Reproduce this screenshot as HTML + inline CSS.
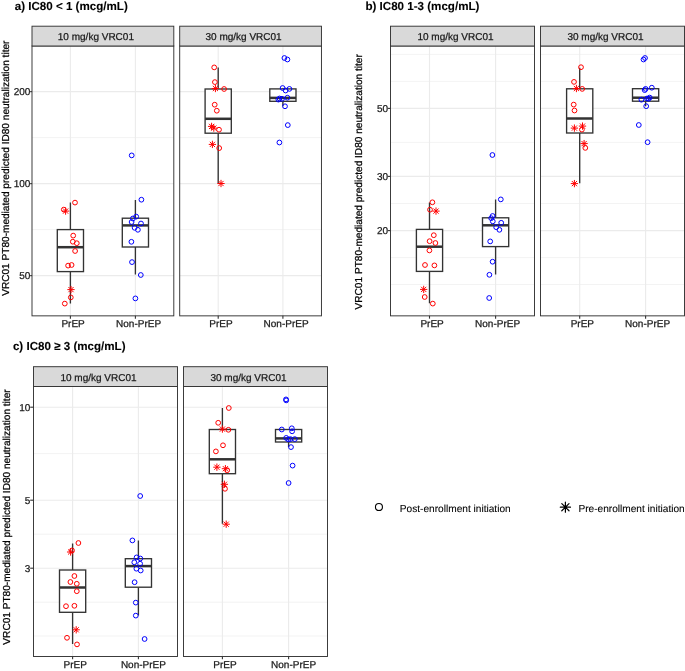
<!DOCTYPE html>
<html><head><meta charset="utf-8"><style>
html,body{margin:0;padding:0;background:#fff;}
#wrap{will-change:transform;width:685px;height:671px;}
svg{display:block;font-family:"Liberation Sans",sans-serif;}
text{text-rendering:geometricPrecision;stroke:currentColor;stroke-width:0.25px;}
</style></head><body>
<div id="wrap"><svg width="685" height="671" viewBox="0 0 685 671">
<rect width="685" height="671" fill="#fff"/>
<text x="14.7" y="9.7" font-size="11.6" fill="#000" color="#000" text-anchor="start" font-weight="bold" style="stroke-width:0.1px" >a) IC80 &lt; 1 (mcg/mL)</text>
<text transform="translate(9,168.2) rotate(-90)" font-size="10.1" fill="#000" color="#000" text-anchor="middle">VRC01 PT80-mediated predicted ID80 neutralization titer</text>
<rect x="32" y="46" width="141.8" height="269.85" fill="#fff"/>
<path d="M32 137.6H173.8" stroke="#ebebeb" stroke-width="0.6"/>
<path d="M32 229.6H173.8" stroke="#ebebeb" stroke-width="0.6"/>
<path d="M32 91.6H173.8" stroke="#ebebeb" stroke-width="1.1"/>
<path d="M32 183.6H173.8" stroke="#ebebeb" stroke-width="1.1"/>
<path d="M32 275.6H173.8" stroke="#ebebeb" stroke-width="1.1"/>
<path d="M70.4 46V315.85" stroke="#ebebeb" stroke-width="1.1"/>
<path d="M135.4 46V315.85" stroke="#ebebeb" stroke-width="1.1"/>
<path d="M70.4 202.5V229.6M70.4 271.6V303.5" stroke="#333333" stroke-width="1.35" fill="none"/><rect x="57.3" y="229.6" width="26.2" height="42" fill="#fff" stroke="#333333" stroke-width="1.35"/><path d="M57.3 247.2H83.5" stroke="#333333" stroke-width="2.5" fill="none"/>
<path d="M135.4 200V218.2M135.4 247V274.6" stroke="#333333" stroke-width="1.35" fill="none"/><rect x="122.3" y="218.2" width="26.2" height="28.8" fill="#fff" stroke="#333333" stroke-width="1.35"/><path d="M122.3 225.4H148.5" stroke="#333333" stroke-width="2.5" fill="none"/>
<circle cx="75" cy="202.6" r="2.38" fill="none" stroke="#ff0000" stroke-width="1"/>
<circle cx="63.8" cy="209.6" r="2.38" fill="none" stroke="#ff0000" stroke-width="1"/>
<path d="M63.3 208.8L67.9 213.4M63.3 213.4L67.9 208.8M62.35 211.1L68.85 211.1M65.6 207.85L65.6 214.35" fill="none" stroke="#ff0000" stroke-width="1" stroke-linecap="round"/>
<circle cx="73.2" cy="235.6" r="2.38" fill="none" stroke="#ff0000" stroke-width="1"/>
<circle cx="72.8" cy="241.7" r="2.38" fill="none" stroke="#ff0000" stroke-width="1"/>
<circle cx="76.8" cy="243.2" r="2.38" fill="none" stroke="#ff0000" stroke-width="1"/>
<circle cx="75.1" cy="251" r="2.38" fill="none" stroke="#ff0000" stroke-width="1"/>
<circle cx="68.1" cy="265.6" r="2.38" fill="none" stroke="#ff0000" stroke-width="1"/>
<circle cx="71.6" cy="265" r="2.38" fill="none" stroke="#ff0000" stroke-width="1"/>
<path d="M68.7 287.3L73.3 291.9M68.7 291.9L73.3 287.3M67.75 289.6L74.25 289.6M71 286.35L71 292.85" fill="none" stroke="#ff0000" stroke-width="1" stroke-linecap="round"/>
<circle cx="70.8" cy="297.4" r="2.38" fill="none" stroke="#ff0000" stroke-width="1"/>
<circle cx="64.8" cy="303.6" r="2.38" fill="none" stroke="#ff0000" stroke-width="1"/>
<circle cx="131.7" cy="155.4" r="2.38" fill="none" stroke="#0000ff" stroke-width="1"/>
<circle cx="141.4" cy="199.7" r="2.38" fill="none" stroke="#0000ff" stroke-width="1"/>
<circle cx="136.2" cy="216.6" r="2.38" fill="none" stroke="#0000ff" stroke-width="1"/>
<circle cx="132.9" cy="218.5" r="2.38" fill="none" stroke="#0000ff" stroke-width="1"/>
<circle cx="131.6" cy="222" r="2.38" fill="none" stroke="#0000ff" stroke-width="1"/>
<circle cx="141" cy="223.5" r="2.38" fill="none" stroke="#0000ff" stroke-width="1"/>
<circle cx="134.6" cy="227.8" r="2.38" fill="none" stroke="#0000ff" stroke-width="1"/>
<circle cx="137.9" cy="229.8" r="2.38" fill="none" stroke="#0000ff" stroke-width="1"/>
<circle cx="131.4" cy="241.8" r="2.38" fill="none" stroke="#0000ff" stroke-width="1"/>
<circle cx="132" cy="262.1" r="2.38" fill="none" stroke="#0000ff" stroke-width="1"/>
<circle cx="140.8" cy="275" r="2.38" fill="none" stroke="#0000ff" stroke-width="1"/>
<circle cx="135.4" cy="298.4" r="2.38" fill="none" stroke="#0000ff" stroke-width="1"/>
<rect x="32" y="46" width="141.8" height="269.85" fill="none" stroke="#333333" stroke-width="0.95"/>
<rect x="32" y="26.2" width="141.8" height="19.8" fill="#d9d9d9" stroke="#333333" stroke-width="0.95"/>
<text x="95.9" y="40.2" font-size="10" fill="#1a1a1a" color="#1a1a1a" text-anchor="middle" >10 mg/kg VRC01</text>
<path d="M70.4 315.85V318.65" stroke="#333333" stroke-width="1.1"/>
<text x="73.1" y="327.05" font-size="10" fill="#1a1a1a" color="#1a1a1a" text-anchor="middle" >PrEP</text>
<path d="M135.4 315.85V318.65" stroke="#333333" stroke-width="1.1"/>
<text x="138.6" y="327.05" font-size="10" fill="#1a1a1a" color="#1a1a1a" text-anchor="middle" >Non-PrEP</text>
<rect x="179.7" y="46" width="141.75" height="269.85" fill="#fff"/>
<path d="M179.7 137.6H321.45" stroke="#ebebeb" stroke-width="0.6"/>
<path d="M179.7 229.6H321.45" stroke="#ebebeb" stroke-width="0.6"/>
<path d="M179.7 91.6H321.45" stroke="#ebebeb" stroke-width="1.1"/>
<path d="M179.7 183.6H321.45" stroke="#ebebeb" stroke-width="1.1"/>
<path d="M179.7 275.6H321.45" stroke="#ebebeb" stroke-width="1.1"/>
<path d="M218.2 46V315.85" stroke="#ebebeb" stroke-width="1.1"/>
<path d="M282.9 46V315.85" stroke="#ebebeb" stroke-width="1.1"/>
<path d="M218.2 67.6V89M218.2 133.2V183.3" stroke="#333333" stroke-width="1.35" fill="none"/><rect x="205.1" y="89" width="26.2" height="44.2" fill="#fff" stroke="#333333" stroke-width="1.35"/><path d="M205.1 118.8H231.3" stroke="#333333" stroke-width="2.5" fill="none"/>
<path d="M282.9 88.3V88.9M282.9 101.3V106.3" stroke="#333333" stroke-width="1.35" fill="none"/><rect x="269.8" y="88.9" width="26.2" height="12.4" fill="#fff" stroke="#333333" stroke-width="1.35"/><path d="M269.8 97.9H296" stroke="#333333" stroke-width="2.5" fill="none"/>
<circle cx="214.2" cy="67.4" r="2.38" fill="none" stroke="#ff0000" stroke-width="1"/>
<circle cx="214.9" cy="82.1" r="2.38" fill="none" stroke="#ff0000" stroke-width="1"/>
<path d="M213.1 86.2L217.7 90.8M213.1 90.8L217.7 86.2M212.15 88.5L218.65 88.5M215.4 85.25L215.4 91.75" fill="none" stroke="#ff0000" stroke-width="1" stroke-linecap="round"/>
<circle cx="224.1" cy="89" r="2.38" fill="none" stroke="#ff0000" stroke-width="1"/>
<circle cx="214.7" cy="104.7" r="2.38" fill="none" stroke="#ff0000" stroke-width="1"/>
<circle cx="216.8" cy="110.7" r="2.38" fill="none" stroke="#ff0000" stroke-width="1"/>
<path d="M209.3 124.1L213.9 128.7M209.3 128.7L213.9 124.1M208.35 126.4L214.85 126.4M211.6 123.15L211.6 129.65" fill="none" stroke="#ff0000" stroke-width="1" stroke-linecap="round"/>
<path d="M211.5 125.8L216.1 130.4M211.5 130.4L216.1 125.8M210.55 128.1L217.05 128.1M213.8 124.85L213.8 131.35" fill="none" stroke="#ff0000" stroke-width="1" stroke-linecap="round"/>
<circle cx="219" cy="129.7" r="2.38" fill="none" stroke="#ff0000" stroke-width="1"/>
<path d="M210.1 142.1L214.7 146.7M210.1 146.7L214.7 142.1M209.15 144.4L215.65 144.4M212.4 141.15L212.4 147.65" fill="none" stroke="#ff0000" stroke-width="1" stroke-linecap="round"/>
<circle cx="219.2" cy="148.1" r="2.38" fill="none" stroke="#ff0000" stroke-width="1"/>
<path d="M218.7 181.2L223.3 185.8M218.7 185.8L223.3 181.2M217.75 183.5L224.25 183.5M221 180.25L221 186.75" fill="none" stroke="#ff0000" stroke-width="1" stroke-linecap="round"/>
<circle cx="284.4" cy="58" r="2.38" fill="none" stroke="#0000ff" stroke-width="1"/>
<circle cx="287.4" cy="59.5" r="2.38" fill="none" stroke="#0000ff" stroke-width="1"/>
<circle cx="282.6" cy="88" r="2.38" fill="none" stroke="#0000ff" stroke-width="1"/>
<circle cx="289.4" cy="88.9" r="2.38" fill="none" stroke="#0000ff" stroke-width="1"/>
<circle cx="285.6" cy="90.5" r="2.38" fill="none" stroke="#0000ff" stroke-width="1"/>
<circle cx="287.4" cy="97.7" r="2.38" fill="none" stroke="#0000ff" stroke-width="1"/>
<circle cx="279.5" cy="98.5" r="2.38" fill="none" stroke="#0000ff" stroke-width="1"/>
<circle cx="282" cy="98.8" r="2.38" fill="none" stroke="#0000ff" stroke-width="1"/>
<circle cx="278.4" cy="99.6" r="2.38" fill="none" stroke="#0000ff" stroke-width="1"/>
<circle cx="285" cy="106.3" r="2.38" fill="none" stroke="#0000ff" stroke-width="1"/>
<circle cx="287.8" cy="125.1" r="2.38" fill="none" stroke="#0000ff" stroke-width="1"/>
<circle cx="279.4" cy="142.5" r="2.38" fill="none" stroke="#0000ff" stroke-width="1"/>
<rect x="179.7" y="46" width="141.75" height="269.85" fill="none" stroke="#333333" stroke-width="0.95"/>
<rect x="179.7" y="26.2" width="141.75" height="19.8" fill="#d9d9d9" stroke="#333333" stroke-width="0.95"/>
<text x="243.57" y="40.2" font-size="10" fill="#1a1a1a" color="#1a1a1a" text-anchor="middle" >30 mg/kg VRC01</text>
<path d="M218.2 315.85V318.65" stroke="#333333" stroke-width="1.1"/>
<text x="220.9" y="327.05" font-size="10" fill="#1a1a1a" color="#1a1a1a" text-anchor="middle" >PrEP</text>
<path d="M282.9 315.85V318.65" stroke="#333333" stroke-width="1.1"/>
<text x="286.1" y="327.05" font-size="10" fill="#1a1a1a" color="#1a1a1a" text-anchor="middle" >Non-PrEP</text>
<path d="M30.2 91.6H31.9" stroke="#333333" stroke-width="1.1"/>
<text x="30.4" y="95.2" font-size="10" fill="#1a1a1a" color="#1a1a1a" text-anchor="end" >200</text>
<path d="M30.2 183.6H31.9" stroke="#333333" stroke-width="1.1"/>
<text x="30.4" y="187.2" font-size="10" fill="#1a1a1a" color="#1a1a1a" text-anchor="end" >100</text>
<path d="M30.2 275.6H31.9" stroke="#333333" stroke-width="1.1"/>
<text x="30.4" y="279.2" font-size="10" fill="#1a1a1a" color="#1a1a1a" text-anchor="end" >50</text>
<text x="365.4" y="9.7" font-size="11.6" fill="#000" color="#000" text-anchor="start" font-weight="bold" style="stroke-width:0.1px" >b) IC80 1-3 (mcg/mL)</text>
<text transform="translate(362,181.8) rotate(-90)" font-size="10.1" fill="#000" color="#000" text-anchor="middle">VRC01 PT80-mediated predicted ID80 neutralization titer</text>
<rect x="390.5" y="46" width="144" height="269.85" fill="#fff"/>
<path d="M390.5 54.4H534.5" stroke="#ebebeb" stroke-width="0.6"/>
<path d="M390.5 81.4H534.5" stroke="#ebebeb" stroke-width="0.6"/>
<path d="M390.5 142.4H534.5" stroke="#ebebeb" stroke-width="0.6"/>
<path d="M390.5 203.5H534.5" stroke="#ebebeb" stroke-width="0.6"/>
<path d="M390.5 257.6H534.5" stroke="#ebebeb" stroke-width="0.6"/>
<path d="M390.5 284.5H534.5" stroke="#ebebeb" stroke-width="0.6"/>
<path d="M390.5 108.4H534.5" stroke="#ebebeb" stroke-width="1.1"/>
<path d="M390.5 176.4H534.5" stroke="#ebebeb" stroke-width="1.1"/>
<path d="M390.5 230.6H534.5" stroke="#ebebeb" stroke-width="1.1"/>
<path d="M429.5 46V315.85" stroke="#ebebeb" stroke-width="1.1"/>
<path d="M495.6 46V315.85" stroke="#ebebeb" stroke-width="1.1"/>
<path d="M429.5 202.4V229.4M429.5 271.4V303.2" stroke="#333333" stroke-width="1.35" fill="none"/><rect x="416.4" y="229.4" width="26.2" height="42" fill="#fff" stroke="#333333" stroke-width="1.35"/><path d="M416.4 246.7H442.6" stroke="#333333" stroke-width="2.5" fill="none"/>
<path d="M495.6 199.6V217.8M495.6 246.6V274.4" stroke="#333333" stroke-width="1.35" fill="none"/><rect x="482.5" y="217.8" width="26.2" height="28.8" fill="#fff" stroke="#333333" stroke-width="1.35"/><path d="M482.5 225.3H508.7" stroke="#333333" stroke-width="2.5" fill="none"/>
<circle cx="432.4" cy="202.3" r="2.38" fill="none" stroke="#ff0000" stroke-width="1"/>
<circle cx="430" cy="209.7" r="2.38" fill="none" stroke="#ff0000" stroke-width="1"/>
<path d="M433.7 208.8L438.3 213.4M433.7 213.4L438.3 208.8M432.75 211.1L439.25 211.1M436 207.85L436 214.35" fill="none" stroke="#ff0000" stroke-width="1" stroke-linecap="round"/>
<circle cx="433.8" cy="235.2" r="2.38" fill="none" stroke="#ff0000" stroke-width="1"/>
<circle cx="429.6" cy="241.2" r="2.38" fill="none" stroke="#ff0000" stroke-width="1"/>
<circle cx="435.4" cy="243" r="2.38" fill="none" stroke="#ff0000" stroke-width="1"/>
<circle cx="429.4" cy="250.4" r="2.38" fill="none" stroke="#ff0000" stroke-width="1"/>
<circle cx="425" cy="265" r="2.38" fill="none" stroke="#ff0000" stroke-width="1"/>
<circle cx="434.4" cy="265.4" r="2.38" fill="none" stroke="#ff0000" stroke-width="1"/>
<path d="M421.4 287.1L426 291.7M421.4 291.7L426 287.1M420.45 289.4L426.95 289.4M423.7 286.15L423.7 292.65" fill="none" stroke="#ff0000" stroke-width="1" stroke-linecap="round"/>
<circle cx="424.7" cy="297" r="2.38" fill="none" stroke="#ff0000" stroke-width="1"/>
<circle cx="432.8" cy="303.6" r="2.38" fill="none" stroke="#ff0000" stroke-width="1"/>
<circle cx="492.4" cy="155" r="2.38" fill="none" stroke="#0000ff" stroke-width="1"/>
<circle cx="500.8" cy="199.4" r="2.38" fill="none" stroke="#0000ff" stroke-width="1"/>
<circle cx="492.6" cy="216" r="2.38" fill="none" stroke="#0000ff" stroke-width="1"/>
<circle cx="491.2" cy="218.2" r="2.38" fill="none" stroke="#0000ff" stroke-width="1"/>
<circle cx="492.8" cy="221.4" r="2.38" fill="none" stroke="#0000ff" stroke-width="1"/>
<circle cx="501.2" cy="222.8" r="2.38" fill="none" stroke="#0000ff" stroke-width="1"/>
<circle cx="496.2" cy="227.2" r="2.38" fill="none" stroke="#0000ff" stroke-width="1"/>
<circle cx="499.4" cy="229.8" r="2.38" fill="none" stroke="#0000ff" stroke-width="1"/>
<circle cx="490.2" cy="241.4" r="2.38" fill="none" stroke="#0000ff" stroke-width="1"/>
<circle cx="492.6" cy="261.7" r="2.38" fill="none" stroke="#0000ff" stroke-width="1"/>
<circle cx="489.4" cy="274.8" r="2.38" fill="none" stroke="#0000ff" stroke-width="1"/>
<circle cx="489.2" cy="298" r="2.38" fill="none" stroke="#0000ff" stroke-width="1"/>
<rect x="390.5" y="46" width="144" height="269.85" fill="none" stroke="#333333" stroke-width="0.95"/>
<rect x="390.5" y="26.2" width="144" height="19.8" fill="#d9d9d9" stroke="#333333" stroke-width="0.95"/>
<text x="455.5" y="40.2" font-size="10" fill="#1a1a1a" color="#1a1a1a" text-anchor="middle" >10 mg/kg VRC01</text>
<path d="M429.5 315.85V318.65" stroke="#333333" stroke-width="1.1"/>
<text x="432.1" y="327.05" font-size="10" fill="#1a1a1a" color="#1a1a1a" text-anchor="middle" >PrEP</text>
<path d="M495.6 315.85V318.65" stroke="#333333" stroke-width="1.1"/>
<text x="497.6" y="327.05" font-size="10" fill="#1a1a1a" color="#1a1a1a" text-anchor="middle" >Non-PrEP</text>
<rect x="540.5" y="46" width="144" height="269.85" fill="#fff"/>
<path d="M540.5 54.4H684.5" stroke="#ebebeb" stroke-width="0.6"/>
<path d="M540.5 81.4H684.5" stroke="#ebebeb" stroke-width="0.6"/>
<path d="M540.5 142.4H684.5" stroke="#ebebeb" stroke-width="0.6"/>
<path d="M540.5 203.5H684.5" stroke="#ebebeb" stroke-width="0.6"/>
<path d="M540.5 257.6H684.5" stroke="#ebebeb" stroke-width="0.6"/>
<path d="M540.5 284.5H684.5" stroke="#ebebeb" stroke-width="0.6"/>
<path d="M540.5 108.4H684.5" stroke="#ebebeb" stroke-width="1.1"/>
<path d="M540.5 176.4H684.5" stroke="#ebebeb" stroke-width="1.1"/>
<path d="M540.5 230.6H684.5" stroke="#ebebeb" stroke-width="1.1"/>
<path d="M579.7 46V315.85" stroke="#ebebeb" stroke-width="1.1"/>
<path d="M645.6 46V315.85" stroke="#ebebeb" stroke-width="1.1"/>
<path d="M579.7 67.8V88.8M579.7 133V183.2" stroke="#333333" stroke-width="1.35" fill="none"/><rect x="566.6" y="88.8" width="26.2" height="44.2" fill="#fff" stroke="#333333" stroke-width="1.35"/><path d="M566.6 118.5H592.8" stroke="#333333" stroke-width="2.5" fill="none"/>
<path d="M645.6 88V88.7M645.6 101.2V106.2" stroke="#333333" stroke-width="1.35" fill="none"/><rect x="632.5" y="88.7" width="26.2" height="12.5" fill="#fff" stroke="#333333" stroke-width="1.35"/><path d="M632.5 97.7H658.7" stroke="#333333" stroke-width="2.5" fill="none"/>
<circle cx="581" cy="67.2" r="2.38" fill="none" stroke="#ff0000" stroke-width="1"/>
<circle cx="574" cy="81.9" r="2.38" fill="none" stroke="#ff0000" stroke-width="1"/>
<path d="M574.1 86.2L578.7 90.8M574.1 90.8L578.7 86.2M573.15 88.5L579.65 88.5M576.4 85.25L576.4 91.75" fill="none" stroke="#ff0000" stroke-width="1" stroke-linecap="round"/>
<circle cx="582.2" cy="88.9" r="2.38" fill="none" stroke="#ff0000" stroke-width="1"/>
<circle cx="573.7" cy="104.6" r="2.38" fill="none" stroke="#ff0000" stroke-width="1"/>
<circle cx="574.5" cy="110.5" r="2.38" fill="none" stroke="#ff0000" stroke-width="1"/>
<path d="M580.2 123.8L584.8 128.4M580.2 128.4L584.8 123.8M579.25 126.1L585.75 126.1M582.5 122.85L582.5 129.35" fill="none" stroke="#ff0000" stroke-width="1" stroke-linecap="round"/>
<path d="M572.1 125.8L576.7 130.4M572.1 130.4L576.7 125.8M571.15 128.1L577.65 128.1M574.4 124.85L574.4 131.35" fill="none" stroke="#ff0000" stroke-width="1" stroke-linecap="round"/>
<circle cx="581.9" cy="129.6" r="2.38" fill="none" stroke="#ff0000" stroke-width="1"/>
<path d="M581.8 141.3L586.4 145.9M581.8 145.9L586.4 141.3M580.85 143.6L587.35 143.6M584.1 140.35L584.1 146.85" fill="none" stroke="#ff0000" stroke-width="1" stroke-linecap="round"/>
<circle cx="585.3" cy="147.9" r="2.38" fill="none" stroke="#ff0000" stroke-width="1"/>
<path d="M572.1 181.3L576.7 185.9M572.1 185.9L576.7 181.3M571.15 183.6L577.65 183.6M574.4 180.35L574.4 186.85" fill="none" stroke="#ff0000" stroke-width="1" stroke-linecap="round"/>
<circle cx="645" cy="58" r="2.38" fill="none" stroke="#0000ff" stroke-width="1"/>
<circle cx="643.5" cy="59.5" r="2.38" fill="none" stroke="#0000ff" stroke-width="1"/>
<circle cx="651.8" cy="87.7" r="2.38" fill="none" stroke="#0000ff" stroke-width="1"/>
<circle cx="645.6" cy="88.9" r="2.38" fill="none" stroke="#0000ff" stroke-width="1"/>
<circle cx="644.7" cy="90.1" r="2.38" fill="none" stroke="#0000ff" stroke-width="1"/>
<circle cx="649.7" cy="97.6" r="2.38" fill="none" stroke="#0000ff" stroke-width="1"/>
<circle cx="647" cy="98.5" r="2.38" fill="none" stroke="#0000ff" stroke-width="1"/>
<circle cx="648.5" cy="98.8" r="2.38" fill="none" stroke="#0000ff" stroke-width="1"/>
<circle cx="641.4" cy="99.7" r="2.38" fill="none" stroke="#0000ff" stroke-width="1"/>
<circle cx="646.2" cy="106.2" r="2.38" fill="none" stroke="#0000ff" stroke-width="1"/>
<circle cx="638.8" cy="125" r="2.38" fill="none" stroke="#0000ff" stroke-width="1"/>
<circle cx="647.6" cy="142.2" r="2.38" fill="none" stroke="#0000ff" stroke-width="1"/>
<rect x="540.5" y="46" width="144" height="269.85" fill="none" stroke="#333333" stroke-width="0.95"/>
<rect x="540.5" y="26.2" width="144" height="19.8" fill="#d9d9d9" stroke="#333333" stroke-width="0.95"/>
<text x="605.5" y="40.2" font-size="10" fill="#1a1a1a" color="#1a1a1a" text-anchor="middle" >30 mg/kg VRC01</text>
<path d="M579.7 315.85V318.65" stroke="#333333" stroke-width="1.1"/>
<text x="582.3" y="327.05" font-size="10" fill="#1a1a1a" color="#1a1a1a" text-anchor="middle" >PrEP</text>
<path d="M645.6 315.85V318.65" stroke="#333333" stroke-width="1.1"/>
<text x="647.6" y="327.05" font-size="10" fill="#1a1a1a" color="#1a1a1a" text-anchor="middle" >Non-PrEP</text>
<path d="M387.9 108.4H390.6" stroke="#333333" stroke-width="1.1"/>
<text x="388" y="112" font-size="10" fill="#1a1a1a" color="#1a1a1a" text-anchor="end" >50</text>
<path d="M387.9 176.4H390.6" stroke="#333333" stroke-width="1.1"/>
<text x="388" y="180" font-size="10" fill="#1a1a1a" color="#1a1a1a" text-anchor="end" >30</text>
<path d="M387.9 230.6H390.6" stroke="#333333" stroke-width="1.1"/>
<text x="388" y="234.2" font-size="10" fill="#1a1a1a" color="#1a1a1a" text-anchor="end" >20</text>
<text x="12.9" y="349.9" font-size="11.6" fill="#000" color="#000" text-anchor="start" font-weight="bold" style="stroke-width:0.1px" >c) IC80 &#8805; 3 (mcg/mL)</text>
<text transform="translate(10,517) rotate(-90)" font-size="10.1" fill="#000" color="#000" text-anchor="middle">VRC01 PT80-mediated predicted ID80 neutralization titer</text>
<rect x="33.5" y="386.5" width="144" height="270" fill="#fff"/>
<path d="M33.5 453.6H177.5" stroke="#ebebeb" stroke-width="0.6"/>
<path d="M33.5 534.2H177.5" stroke="#ebebeb" stroke-width="0.6"/>
<path d="M33.5 602.2H177.5" stroke="#ebebeb" stroke-width="0.6"/>
<path d="M33.5 636H177.5" stroke="#ebebeb" stroke-width="0.6"/>
<path d="M33.5 407.2H177.5" stroke="#ebebeb" stroke-width="1.1"/>
<path d="M33.5 500.2H177.5" stroke="#ebebeb" stroke-width="1.1"/>
<path d="M33.5 568.2H177.5" stroke="#ebebeb" stroke-width="1.1"/>
<path d="M72.6 386.5V656.5" stroke="#ebebeb" stroke-width="1.1"/>
<path d="M138.4 386.5V656.5" stroke="#ebebeb" stroke-width="1.1"/>
<path d="M72.6 543.4V570M72.6 612.3V644" stroke="#333333" stroke-width="1.35" fill="none"/><rect x="59.5" y="570" width="26.2" height="42.3" fill="#fff" stroke="#333333" stroke-width="1.35"/><path d="M59.5 587.5H85.7" stroke="#333333" stroke-width="2.5" fill="none"/>
<path d="M138.4 540.5V558.7M138.4 587.2V615.6" stroke="#333333" stroke-width="1.35" fill="none"/><rect x="125.3" y="558.7" width="26.2" height="28.5" fill="#fff" stroke="#333333" stroke-width="1.35"/><path d="M125.3 566.1H151.5" stroke="#333333" stroke-width="2.5" fill="none"/>
<circle cx="78.4" cy="543" r="2.38" fill="none" stroke="#ff0000" stroke-width="1"/>
<circle cx="72" cy="550.4" r="2.38" fill="none" stroke="#ff0000" stroke-width="1"/>
<path d="M68.3 549.7L72.9 554.3M68.3 554.3L72.9 549.7M67.35 552L73.85 552M70.6 548.75L70.6 555.25" fill="none" stroke="#ff0000" stroke-width="1" stroke-linecap="round"/>
<circle cx="74.4" cy="576" r="2.38" fill="none" stroke="#ff0000" stroke-width="1"/>
<circle cx="70.4" cy="582" r="2.38" fill="none" stroke="#ff0000" stroke-width="1"/>
<circle cx="76.8" cy="583.8" r="2.38" fill="none" stroke="#ff0000" stroke-width="1"/>
<circle cx="76.8" cy="591.2" r="2.38" fill="none" stroke="#ff0000" stroke-width="1"/>
<circle cx="66" cy="606.2" r="2.38" fill="none" stroke="#ff0000" stroke-width="1"/>
<circle cx="74.4" cy="605.8" r="2.38" fill="none" stroke="#ff0000" stroke-width="1"/>
<path d="M73.9 627.5L78.5 632.1M73.9 632.1L78.5 627.5M72.95 629.8L79.45 629.8M76.2 626.55L76.2 633.05" fill="none" stroke="#ff0000" stroke-width="1" stroke-linecap="round"/>
<circle cx="67" cy="637.8" r="2.38" fill="none" stroke="#ff0000" stroke-width="1"/>
<circle cx="77" cy="644.4" r="2.38" fill="none" stroke="#ff0000" stroke-width="1"/>
<circle cx="140.2" cy="496" r="2.38" fill="none" stroke="#0000ff" stroke-width="1"/>
<circle cx="132.4" cy="540.4" r="2.38" fill="none" stroke="#0000ff" stroke-width="1"/>
<circle cx="136.6" cy="557.4" r="2.38" fill="none" stroke="#0000ff" stroke-width="1"/>
<circle cx="140.3" cy="558.5" r="2.38" fill="none" stroke="#0000ff" stroke-width="1"/>
<circle cx="134.3" cy="562.3" r="2.38" fill="none" stroke="#0000ff" stroke-width="1"/>
<circle cx="140.1" cy="563.7" r="2.38" fill="none" stroke="#0000ff" stroke-width="1"/>
<circle cx="136.4" cy="568.7" r="2.38" fill="none" stroke="#0000ff" stroke-width="1"/>
<circle cx="140.7" cy="570.5" r="2.38" fill="none" stroke="#0000ff" stroke-width="1"/>
<circle cx="134.6" cy="582.2" r="2.38" fill="none" stroke="#0000ff" stroke-width="1"/>
<circle cx="135.8" cy="602.6" r="2.38" fill="none" stroke="#0000ff" stroke-width="1"/>
<circle cx="135.8" cy="615.6" r="2.38" fill="none" stroke="#0000ff" stroke-width="1"/>
<circle cx="144.6" cy="639" r="2.38" fill="none" stroke="#0000ff" stroke-width="1"/>
<rect x="33.5" y="386.5" width="144" height="270" fill="none" stroke="#333333" stroke-width="0.95"/>
<rect x="33.5" y="366.7" width="144" height="19.8" fill="#d9d9d9" stroke="#333333" stroke-width="0.95"/>
<text x="98.5" y="380.7" font-size="10" fill="#1a1a1a" color="#1a1a1a" text-anchor="middle" >10 mg/kg VRC01</text>
<path d="M72.6 656.5V659.3" stroke="#333333" stroke-width="1.1"/>
<text x="75.2" y="667.7" font-size="10" fill="#1a1a1a" color="#1a1a1a" text-anchor="middle" >PrEP</text>
<path d="M138.4 656.5V659.3" stroke="#333333" stroke-width="1.1"/>
<text x="143.4" y="667.7" font-size="10" fill="#1a1a1a" color="#1a1a1a" text-anchor="middle" >Non-PrEP</text>
<rect x="183.5" y="386.5" width="144" height="270" fill="#fff"/>
<path d="M183.5 453.6H327.5" stroke="#ebebeb" stroke-width="0.6"/>
<path d="M183.5 534.2H327.5" stroke="#ebebeb" stroke-width="0.6"/>
<path d="M183.5 602.2H327.5" stroke="#ebebeb" stroke-width="0.6"/>
<path d="M183.5 636H327.5" stroke="#ebebeb" stroke-width="0.6"/>
<path d="M183.5 407.2H327.5" stroke="#ebebeb" stroke-width="1.1"/>
<path d="M183.5 500.2H327.5" stroke="#ebebeb" stroke-width="1.1"/>
<path d="M183.5 568.2H327.5" stroke="#ebebeb" stroke-width="1.1"/>
<path d="M222.4 386.5V656.5" stroke="#ebebeb" stroke-width="1.1"/>
<path d="M288.6 386.5V656.5" stroke="#ebebeb" stroke-width="1.1"/>
<path d="M222.4 408V429.5M222.4 473.7V523.8" stroke="#333333" stroke-width="1.35" fill="none"/><rect x="209.3" y="429.5" width="26.2" height="44.2" fill="#fff" stroke="#333333" stroke-width="1.35"/><path d="M209.3 459.3H235.5" stroke="#333333" stroke-width="2.5" fill="none"/>
<path d="M288.6 429V429.5M288.6 442V447" stroke="#333333" stroke-width="1.35" fill="none"/><rect x="275.5" y="429.5" width="26.2" height="12.5" fill="#fff" stroke="#333333" stroke-width="1.35"/><path d="M275.5 438.4H301.7" stroke="#333333" stroke-width="2.5" fill="none"/>
<circle cx="228.8" cy="408" r="2.38" fill="none" stroke="#ff0000" stroke-width="1"/>
<circle cx="218.2" cy="422.8" r="2.38" fill="none" stroke="#ff0000" stroke-width="1"/>
<path d="M220.1 426.8L224.7 431.4M220.1 431.4L224.7 426.8M219.15 429.1L225.65 429.1M222.4 425.85L222.4 432.35" fill="none" stroke="#ff0000" stroke-width="1" stroke-linecap="round"/>
<circle cx="228.4" cy="429.8" r="2.38" fill="none" stroke="#ff0000" stroke-width="1"/>
<circle cx="223" cy="445.3" r="2.38" fill="none" stroke="#ff0000" stroke-width="1"/>
<circle cx="215.9" cy="451.4" r="2.38" fill="none" stroke="#ff0000" stroke-width="1"/>
<path d="M214.6 464.9L219.2 469.5M214.6 469.5L219.2 464.9M213.65 467.2L220.15 467.2M216.9 463.95L216.9 470.45" fill="none" stroke="#ff0000" stroke-width="1" stroke-linecap="round"/>
<path d="M223.1 466.4L227.7 471M223.1 471L227.7 466.4M222.15 468.7L228.65 468.7M225.4 465.45L225.4 471.95" fill="none" stroke="#ff0000" stroke-width="1" stroke-linecap="round"/>
<circle cx="227.2" cy="470.2" r="2.38" fill="none" stroke="#ff0000" stroke-width="1"/>
<path d="M222.1 482L226.7 486.6M222.1 486.6L226.7 482M221.15 484.3L227.65 484.3M224.4 481.05L224.4 487.55" fill="none" stroke="#ff0000" stroke-width="1" stroke-linecap="round"/>
<circle cx="225" cy="488.8" r="2.38" fill="none" stroke="#ff0000" stroke-width="1"/>
<path d="M223.9 521.9L228.5 526.5M223.9 526.5L228.5 521.9M222.95 524.2L229.45 524.2M226.2 520.95L226.2 527.45" fill="none" stroke="#ff0000" stroke-width="1" stroke-linecap="round"/>
<circle cx="286" cy="399.4" r="2.38" fill="none" stroke="#0000ff" stroke-width="1"/>
<circle cx="286.2" cy="400.4" r="2.38" fill="none" stroke="#0000ff" stroke-width="1"/>
<circle cx="291.8" cy="428.3" r="2.38" fill="none" stroke="#0000ff" stroke-width="1"/>
<circle cx="281.8" cy="429.5" r="2.38" fill="none" stroke="#0000ff" stroke-width="1"/>
<circle cx="292.1" cy="431.3" r="2.38" fill="none" stroke="#0000ff" stroke-width="1"/>
<circle cx="286.2" cy="437.9" r="2.38" fill="none" stroke="#0000ff" stroke-width="1"/>
<circle cx="288.3" cy="439.4" r="2.38" fill="none" stroke="#0000ff" stroke-width="1"/>
<circle cx="290.4" cy="439.1" r="2.38" fill="none" stroke="#0000ff" stroke-width="1"/>
<circle cx="294.8" cy="439.1" r="2.38" fill="none" stroke="#0000ff" stroke-width="1"/>
<circle cx="291" cy="447.1" r="2.38" fill="none" stroke="#0000ff" stroke-width="1"/>
<circle cx="292.6" cy="465.6" r="2.38" fill="none" stroke="#0000ff" stroke-width="1"/>
<circle cx="288.6" cy="483" r="2.38" fill="none" stroke="#0000ff" stroke-width="1"/>
<rect x="183.5" y="386.5" width="144" height="270" fill="none" stroke="#333333" stroke-width="0.95"/>
<rect x="183.5" y="366.7" width="144" height="19.8" fill="#d9d9d9" stroke="#333333" stroke-width="0.95"/>
<text x="248.5" y="380.7" font-size="10" fill="#1a1a1a" color="#1a1a1a" text-anchor="middle" >30 mg/kg VRC01</text>
<path d="M222.4 656.5V659.3" stroke="#333333" stroke-width="1.1"/>
<text x="225" y="667.7" font-size="10" fill="#1a1a1a" color="#1a1a1a" text-anchor="middle" >PrEP</text>
<path d="M288.6 656.5V659.3" stroke="#333333" stroke-width="1.1"/>
<text x="293.6" y="667.7" font-size="10" fill="#1a1a1a" color="#1a1a1a" text-anchor="middle" >Non-PrEP</text>
<path d="M30.2 407.2H33.5" stroke="#333333" stroke-width="1.1"/>
<text x="30.3" y="410.8" font-size="10" fill="#1a1a1a" color="#1a1a1a" text-anchor="end" >10</text>
<path d="M30.2 500.2H33.5" stroke="#333333" stroke-width="1.1"/>
<text x="30.3" y="503.8" font-size="10" fill="#1a1a1a" color="#1a1a1a" text-anchor="end" >5</text>
<path d="M30.2 568.2H33.5" stroke="#333333" stroke-width="1.1"/>
<text x="30.3" y="571.8" font-size="10" fill="#1a1a1a" color="#1a1a1a" text-anchor="end" >3</text>
<circle cx="378.95" cy="507.05" r="3.5" fill="none" stroke="#000" stroke-width="1.1"/>
<text x="399.8" y="511.5" font-size="10.15" fill="#000" color="#000" text-anchor="start" style="stroke-width:0.08px">Post-enrollment initiation</text>
<path d="M561.8 503.55L569 510.75M561.8 510.75L569 503.55M560.31 507.15L570.49 507.15M565.4 502.06L565.4 512.24" fill="none" stroke="#000" stroke-width="1.2" stroke-linecap="round"/>
<text x="578.4" y="511.5" font-size="10.15" fill="#000" color="#000" text-anchor="start" style="stroke-width:0.08px">Pre-enrollment initiation</text>
</svg></div>
</body></html>
